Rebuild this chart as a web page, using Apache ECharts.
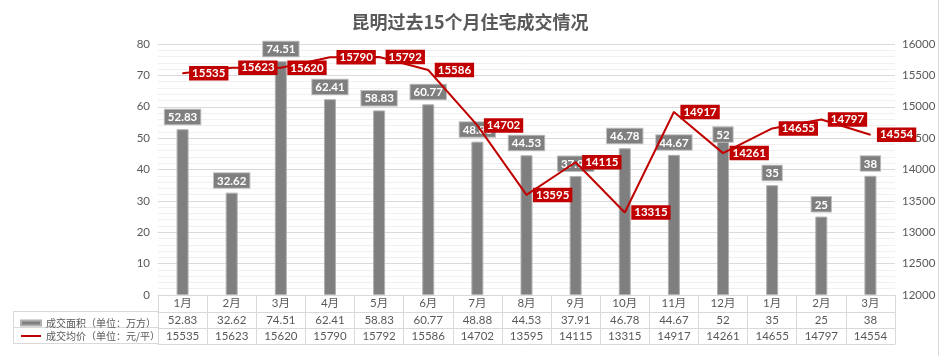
<!DOCTYPE html>
<html><head><meta charset="utf-8">
<script src="https://cdn.jsdelivr.net/npm/echarts@6/dist/echarts.min.js"></script>
<style>html,body{margin:0;padding:0;background:#fff}#c{width:940px;height:356px}</style>
</head><body><div id="c"></div>
<script>
const months = ['1月','2月','3月','4月','5月','6月','7月','8月','9月','10月','11月','12月','1月','2月','3月'];
const area = [52.83,32.62,74.51,62.41,58.83,60.77,48.88,44.53,37.91,46.78,44.67,52,35,25,38];
const price = [15535,15623,15620,15790,15792,15586,14702,13595,14115,13315,14917,14261,14655,14797,14554];
const areaName = '成交面积（单位：万方）';
const priceName = '成交均价（单位：元/平）';
const leftTicks = {min:0, max:80, interval:10};
const rightTicks = {min:12000, max:16000, interval:500};

const FONT = 'Lato, "Noto Sans CJK SC", sans-serif';
const TXT = '#595959';
const LINE = '#d9d9d9';
const chart = echarts.init(document.getElementById('c'));
const tableAxis = (data, offset, showLabel) => ({
  type:'category', data:data, gridIndex:0, position:'bottom', offset:offset,
  axisLine:{show:true, lineStyle:{color:LINE}},
  axisTick:{show:false},
  axisLabel:{show:showLabel, interval:0, margin:3, color:TXT, fontSize:11.5, fontFamily:FONT}
});
// label of the 12th bar was moved down in the original so the line label does not cover it
const barData = area.map((v, i) => i === 11 ? {value:v, label:{offset:[0,15]}} : v);
chart.setOption({
  animation:false,
  textStyle:{fontFamily:FONT},
  title:{text:'昆明过去15个月住宅成交情况', left:'center', top:8,
    textStyle:{fontSize:18, fontWeight:'bold', color:TXT, fontFamily:'"Noto Sans CJK SC", sans-serif'}},
  legend:{orient:'vertical', left:15, top:313, itemWidth:20, itemHeight:5, itemGap:3,
    textStyle:{color:TXT, fontSize:10, fontFamily:'"Noto Sans CJK SC", sans-serif'},
    data:[{name:areaName, icon:'rect'},{name:priceName, icon:'path://M0,0L40,0L40,4L0,4Z'}]},
  grid:{left:158, right:45, top:44, bottom:61},
  xAxis:[
    {type:'category', data:months, position:'bottom',
      axisLine:{show:true, lineStyle:{color:LINE}},
      axisTick:{show:true, interval:0, length:49, lineStyle:{color:LINE}},
      axisLabel:{interval:0, margin:3, color:TXT, fontSize:11.5, fontFamily:FONT}},
    tableAxis(area.map(String), 17, true),
    tableAxis(price.map(String), 33, true),
    tableAxis(months, 49, false)
  ],
  yAxis:[
    {type:'value', min:leftTicks.min, max:leftTicks.max, interval:leftTicks.interval,
      axisLine:{show:false}, axisTick:{show:false},
      axisLabel:{color:TXT, fontSize:11.5, margin:8},
      splitLine:{lineStyle:{color:LINE}},
      minorTick:{show:false, splitNumber:5},
      minorSplitLine:{show:true, lineStyle:{color:'#f0f0f0'}}},
    {type:'value', min:rightTicks.min, max:rightTicks.max, interval:rightTicks.interval,
      position:'right', axisLine:{show:false}, axisTick:{show:false},
      axisLabel:{color:TXT, fontSize:11.5, margin:7, formatter:v => String(v)},
      splitLine:{show:false}}
  ],
  series:[
    {name:areaName, type:'bar', data:barData, barWidth:12, xAxisIndex:0, yAxisIndex:0,
      itemStyle:{color:'#7f7f7f', borderColor:'#b0b0b0', borderWidth:1},
      label:{show:true, position:'top', distance:5, color:'#fff', fontWeight:'bold', fontSize:11.5,
        backgroundColor:'#7f7f7f', borderColor:'#bfbfbf', borderWidth:1, padding:[2,3,1,3]}},
    {name:priceName, type:'line', data:price, xAxisIndex:0, yAxisIndex:1, z:5,
      symbol:'circle', symbolSize:1, showSymbol:true,
      itemStyle:{color:'#c00000'}, lineStyle:{color:'#c00000', width:2},
      label:{show:true, position:'right', distance:6, color:'#fff', fontWeight:'bold', fontSize:11.5,
        backgroundColor:'#c00000', padding:[2,3,1,3]}}
  ],
  graphic:[
    {type:'line', shape:{x1:13, y1:311.5, x2:158, y2:311.5}, style:{stroke:LINE, lineWidth:1}},
    {type:'line', shape:{x1:13, y1:327.5, x2:158, y2:327.5}, style:{stroke:LINE, lineWidth:1}},
    {type:'line', shape:{x1:13, y1:343.5, x2:158, y2:343.5}, style:{stroke:LINE, lineWidth:1}},
    {type:'line', shape:{x1:13.5, y1:311.5, x2:13.5, y2:343.5}, style:{stroke:LINE, lineWidth:1}},
    {type:'line', shape:{x1:938.5, y1:0, x2:938.5, y2:356}, style:{stroke:LINE, lineWidth:1}}
  ]
});
</script></body></html>
